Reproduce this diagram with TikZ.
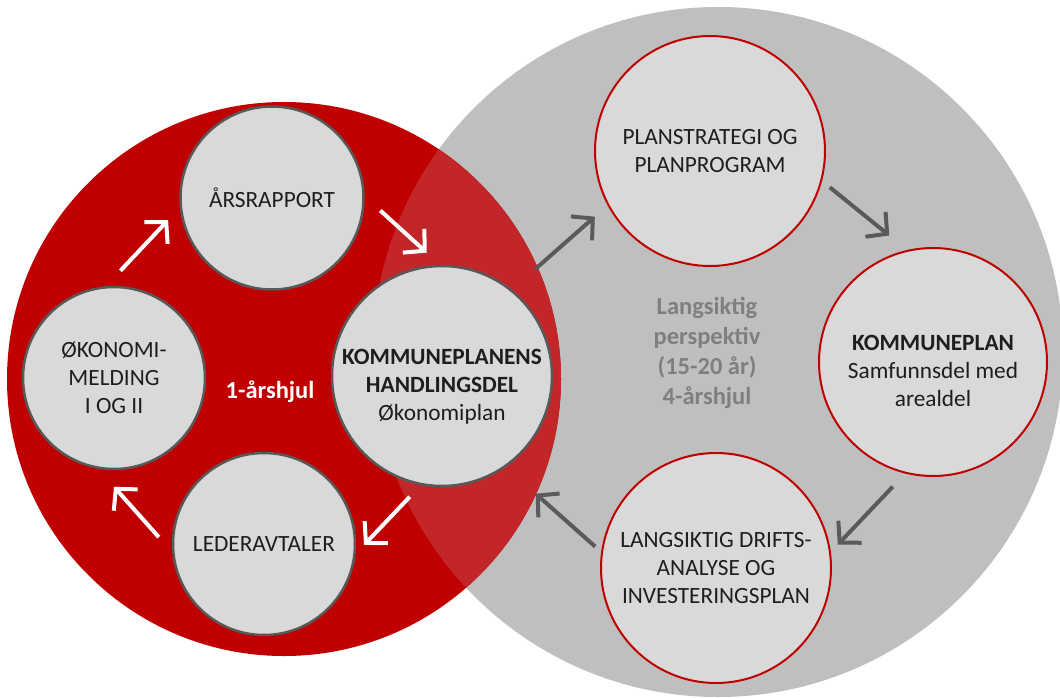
\documentclass[tikz,border=0pt]{standalone}
\usepackage{fontspec}
\setmainfont{Carlito}
\usetikzlibrary{arrows.meta}
\definecolor{bigred}{RGB}{192,0,0}
\definecolor{biggray}{RGB}{191,191,191}
\definecolor{mixred}{RGB}{194,38,41}
\definecolor{smallgray}{RGB}{217,217,217}
\definecolor{rimgray}{RGB}{89,89,89}
\definecolor{arrgray}{RGB}{90,90,90}
\definecolor{txtgray}{RGB}{127,127,127}
\definecolor{txtdark}{RGB}{30,30,30}

\begin{document}
\begin{tikzpicture}[x=1pt, y=-1pt]
%Declaration of styles
	\tikzstyle{wheelL} = [circle, fill=smallgray, draw=rimgray, line width=2.5pt, inner sep=0pt, align=center, text=txtdark, font=\fontsize{23.3}{28}\selectfont] %circles of the 1-year wheel
	\tikzstyle{wheelR} = [wheelL, draw=bigred, line width=2pt, minimum size=230pt] %circles of the 4-year wheel
	\tikzstyle{intext} = [align=center, text=txtdark, font=\fontsize{23.3}{28}\selectfont] %text set lower in a circle
	\tikzstyle{biglabel} = [align=center, font=\bfseries\fontsize{24.5}{30}\selectfont] %centre texts
	\tikzstyle{warr} = [draw=white, line width=4pt, -{Straight Barb[length=15pt, width=32pt]}] %white arrows
	\tikzstyle{garr} = [warr, draw=arrgray] %gray arrows
%Frame
	\useasboundingbox (0,0) rectangle (1060,697);
	\clip (0,0) rectangle (1060,697);
	\fill[white] (0,0) rectangle (1060,697);
%Big circles
	\fill[biggray] (718,352) circle[radius=345pt];
	\fill[bigred] (284,379) circle[radius=277pt];
	\begin{scope}
		\clip (284,379) circle[radius=277pt];
		\fill[mixred] (718,352) circle[radius=345pt];
	\end{scope}
%Nodes, the elements of the graphic
	\node[wheelL, minimum size=183pt] (aars) at (272,198) {ÅRSRAPPORT};
	\node[wheelL, minimum size=220pt, label={[intext, yshift=-11pt]center:{{\bfseries KOMMUNEPLANENS}\\{\bfseries HANDLINGSDEL}\\Økonomiplan}}] (kpd) at (442,376) {};
	\node[wheelL, minimum size=182pt] (led) at (264,544) {LEDERAVTALER};
	\node[wheelL, minimum size=182pt] (oek) at (114,378) {ØKONOMI-\\MELDING\\I OG II};
	\node[wheelR] (plan) at (710,151) {PLANSTRATEGI OG\\PLANPROGRAM};
	\node[wheelR, minimum size=228pt, label={[intext, yshift=-9pt]center:{{\bfseries KOMMUNEPLAN}\\Samfunnsdel med\\arealdel}}] (kp) at (933,362) {};
	\node[wheelR] (lda) at (716,568) {LANGSIKTIG DRIFTS-\\ANALYSE OG\\INVESTERINGSPLAN};
	\node[biglabel, text=white] (aarshjul) at (270,392) {1-årshjul};
	\node[biglabel, text=txtgray] (langsiktig) at (707,353) {Langsiktig\\perspektiv\\(15-20 år)\\4-årshjul};
%Arrows
	\draw[warr, shorten <=21pt, shorten >=17pt] (oek.95) -- (aars.186);
	\draw[warr, shorten <=21pt, shorten >=18pt] (aars.1) -- (kpd.91);
	\draw[warr, shorten <=16pt, shorten >=12pt] (kpd.259) -- (led.354);
	\draw[warr, shorten <=20pt, shorten >=24pt] (led.185) -- (oek.260);
	\draw[garr, shorten <=31pt, shorten >=17pt] (kpd.51) -- (plan.208);
	\draw[garr, shorten <=10pt, shorten >=23pt] (plan.345) -- (kp.103);
	\draw[garr, shorten <=18pt, shorten >=10pt] (kp.256) -- (lda.8);
	\draw[garr, shorten <=8pt, shorten >=40pt] (lda.172) -- (kpd.305);
\end{tikzpicture}
\end{document}
